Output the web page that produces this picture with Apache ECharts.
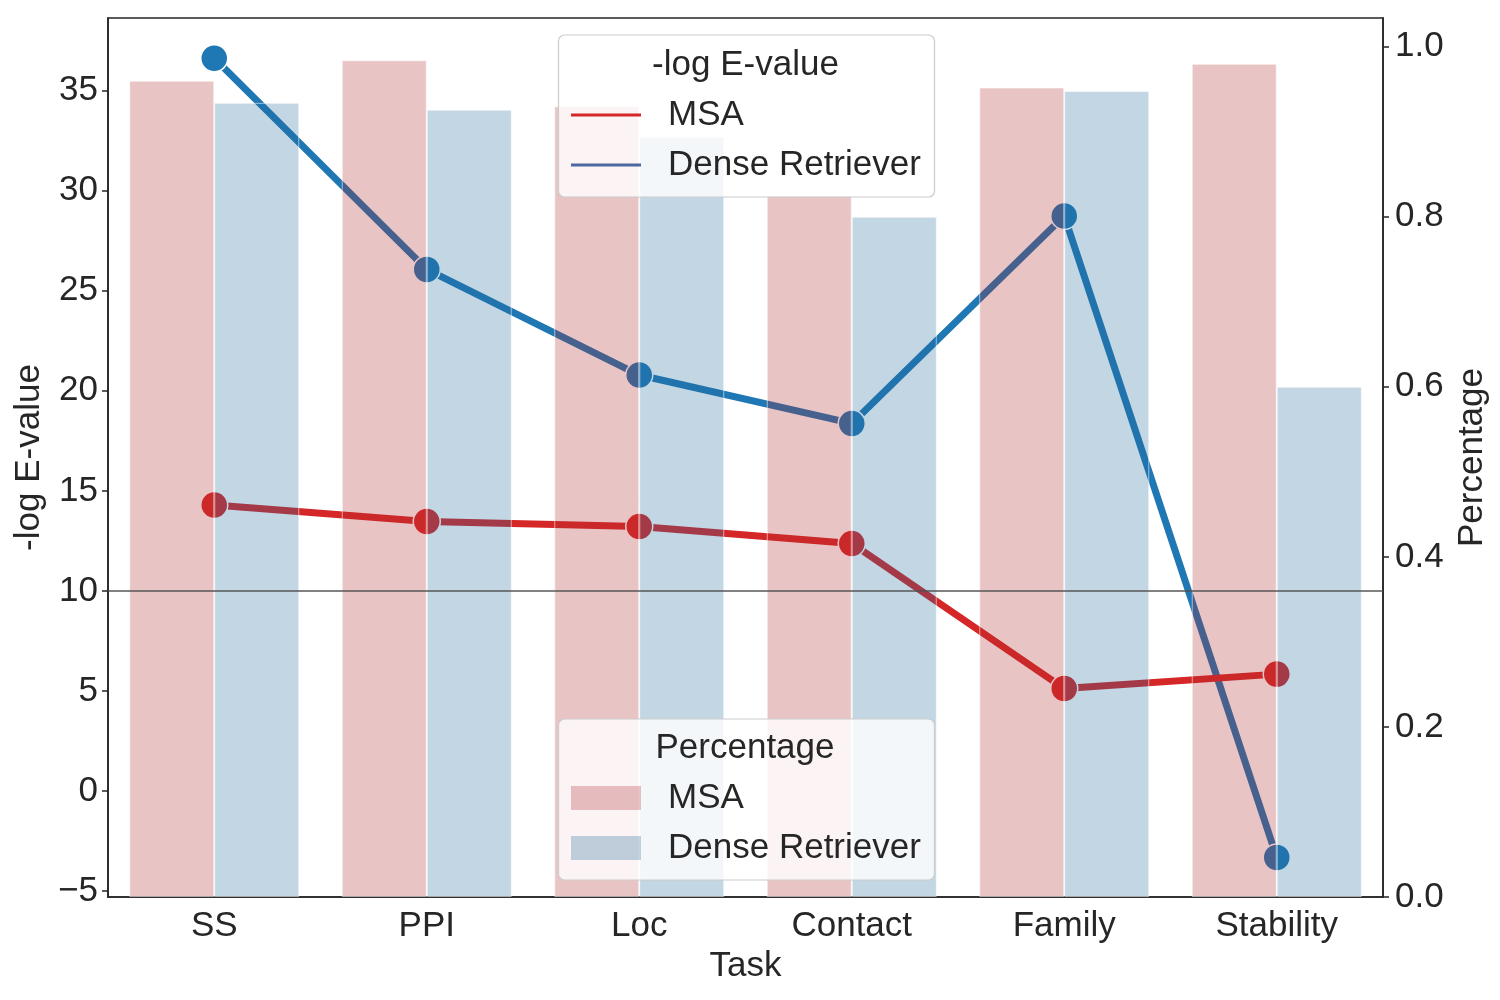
<!DOCTYPE html>
<html>
<head>
<meta charset="utf-8">
<script src="https://cdn.jsdelivr.net/npm/echarts@6/dist/echarts.min.js"></script>
<style>
html,body{margin:0;padding:0;background:#fff;}
#chart{width:1500px;height:1000px;}
</style>
</head>
<body>
<div id="chart"></div>
<script>
const tasks = ['SS', 'PPI', 'Loc', 'Contact', 'Family', 'Stability'];
const msaEvalue = [14.29, 13.47, 13.22, 12.37, 5.12, 5.84];
const denseEvalue = [36.62, 26.07, 20.79, 18.37, 28.74, -3.32];
const msaPct = [0.960, 0.984, 0.930, 0.825, 0.952, 0.980];
const densePct = [0.934, 0.926, 0.894, 0.800, 0.948, 0.600];
const leftTicks = [-5, 0, 5, 10, 15, 20, 25, 30, 35];
const rightTicks = [0, 0.2, 0.4, 0.6, 0.8, 1.0];
const refLineValue = 10;

const FONT = '"Liberation Sans", Arial, sans-serif';
const FS = 35;
const TXT = '#262626';
const pinkBar = 'rgba(176,44,48,0.28)';
const blueBar = 'rgba(37,108,155,0.28)';

const chart = echarts.init(document.getElementById('chart'));
const option = {
  animation: false,
  backgroundColor: '#fff',
  textStyle: { fontFamily: FONT },
  grid: {
    left: 108, right: 117, top: 18, bottom: 103,
    show: true, borderColor: TXT, borderWidth: 1.6, backgroundColor: 'transparent'
  },
  xAxis: {
    type: 'category',
    data: tasks,
    boundaryGap: true,
    name: 'Task',
    nameLocation: 'middle',
    nameGap: 50,
    nameTextStyle: { fontSize: FS, color: TXT, fontFamily: FONT },
    axisLine: { show: true, onZero: false, lineStyle: { color: TXT, width: 1.6 } },
    axisTick: { show: false },
    axisLabel: { fontSize: FS, color: TXT, margin: 12, fontFamily: FONT },
    splitLine: { show: false }
  },
  yAxis: [
    {
      type: 'value',
      min: -5.3, max: 38.635,
      name: '-log E-value',
      nameLocation: 'middle',
      nameRotate: 90,
      nameGap: 55,
      nameTextStyle: { fontSize: FS, color: TXT, fontFamily: FONT },
      axisLine: { show: true, lineStyle: { color: TXT, width: 1.6 } },
      axisTick: { show: true, inside: false, length: 6, lineStyle: { color: TXT, width: 1.5 }, customValues: leftTicks },
      axisLabel: { fontSize: FS, color: TXT, margin: 10, fontFamily: FONT, customValues: leftTicks,
        formatter: v => (v < 0 ? '\u2212' + Math.abs(v) : String(v)) },
      splitLine: { show: false }
    },
    {
      type: 'value',
      min: 0, max: 1.0338,
      position: 'right',
      name: 'Percentage',
      nameLocation: 'middle',
      nameRotate: 90,
      nameGap: 61,
      nameTextStyle: { fontSize: FS, color: TXT, fontFamily: FONT },
      axisLine: { show: true, lineStyle: { color: TXT, width: 1.6 } },
      axisTick: { show: true, inside: false, length: 6, lineStyle: { color: TXT, width: 1.5 }, customValues: rightTicks },
      axisLabel: { fontSize: FS, color: TXT, margin: 12, fontFamily: FONT, customValues: rightTicks,
        formatter: v => v.toFixed(1) },
      splitLine: { show: false }
    }
  ],
  legend: [
    {
      left: 571, top: 95, orient: 'vertical', padding: 0,
      itemWidth: 70, itemHeight: 3, itemGap: 10, z: 60,
      selectedMode: false,
      textStyle: { fontSize: FS, color: TXT, lineHeight: 40, fontFamily: FONT, padding: [0, 0, 0, 22] },
      data: [
        { name: 'MSA', icon: 'rect', itemStyle: { color: '#d62728', borderWidth: 0 } },
        { name: 'Dense Retriever', icon: 'rect', itemStyle: { color: '#4c6aa0', borderWidth: 0 } }
      ]
    },
    {
      left: 571, top: 778, orient: 'vertical', padding: 0,
      itemWidth: 70, itemHeight: 24, itemGap: 10, z: 60,
      selectedMode: false,
      formatter: n => n.trim(),
      textStyle: { fontSize: FS, color: TXT, lineHeight: 40, fontFamily: FONT, padding: [0, 0, 0, 22] },
      data: [
        { name: 'MSA ', icon: 'rect', itemStyle: { color: pinkBar, borderWidth: 0 } },
        { name: 'Dense Retriever ', icon: 'rect', itemStyle: { color: blueBar, borderWidth: 0 } }
      ]
    }
  ],
  graphic: [
    { type: 'rect', z: 50, shape: { x: 558.5, y: 35, width: 376, height: 162, r: 6 },
      style: { fill: 'rgba(255,255,255,0.8)', stroke: '#cccccc', lineWidth: 1.2 } },
    { type: 'text', z: 55, x: 745.5, y: 65,
      style: { text: '-log E-value', font: FS + 'px ' + FONT, fill: TXT, align: 'center', verticalAlign: 'middle' } },
    { type: 'rect', z: 50, shape: { x: 558.5, y: 719, width: 376, height: 161, r: 6 },
      style: { fill: 'rgba(255,255,255,0.8)', stroke: '#cccccc', lineWidth: 1.2 } },
    { type: 'text', z: 55, x: 745, y: 748,
      style: { text: 'Percentage', font: FS + 'px ' + FONT, fill: TXT, align: 'center', verticalAlign: 'middle' } }
  ],
  series: [
    {
      name: 'Dense Retriever', type: 'line', yAxisIndex: 0, z: 1,
      data: denseEvalue,
      symbol: 'circle', symbolSize: 27,
      lineStyle: { color: '#1f77b4', width: 7 },
      itemStyle: { color: '#1f77b4', borderColor: '#ffffff', borderWidth: 1.5 },
      emphasis: { disabled: true }
    },
    {
      name: 'MSA', type: 'line', yAxisIndex: 0, z: 1,
      data: msaEvalue,
      symbol: 'circle', symbolSize: 27,
      lineStyle: { color: '#d62728', width: 7 },
      itemStyle: { color: '#d62728', borderColor: '#ffffff', borderWidth: 1.5 },
      emphasis: { disabled: true }
    },
    {
      name: 'MSA ', type: 'bar', yAxisIndex: 1, z: 3,
      data: msaPct,
      barGap: '0%', barCategoryGap: '20%',
      itemStyle: { color: pinkBar, borderColor: 'rgba(255,255,255,0.55)', borderWidth: 1 },
      emphasis: { disabled: true }
    },
    {
      name: 'Dense Retriever ', type: 'bar', yAxisIndex: 1, z: 3,
      data: densePct,
      barGap: '0%', barCategoryGap: '20%',
      itemStyle: { color: blueBar, borderColor: 'rgba(255,255,255,0.55)', borderWidth: 1 },
      emphasis: { disabled: true }
    },
    {
      name: 'ref', type: 'line', yAxisIndex: 0, z: 5, data: [],
      markLine: {
        silent: true, symbol: 'none', label: { show: false },
        lineStyle: { color: 'rgba(80,80,80,0.72)', width: 1.8, type: 'solid' },
        data: [{ yAxis: refLineValue }]
      }
    }
  ]
};
chart.setOption(option);
</script>
</body>
</html>
